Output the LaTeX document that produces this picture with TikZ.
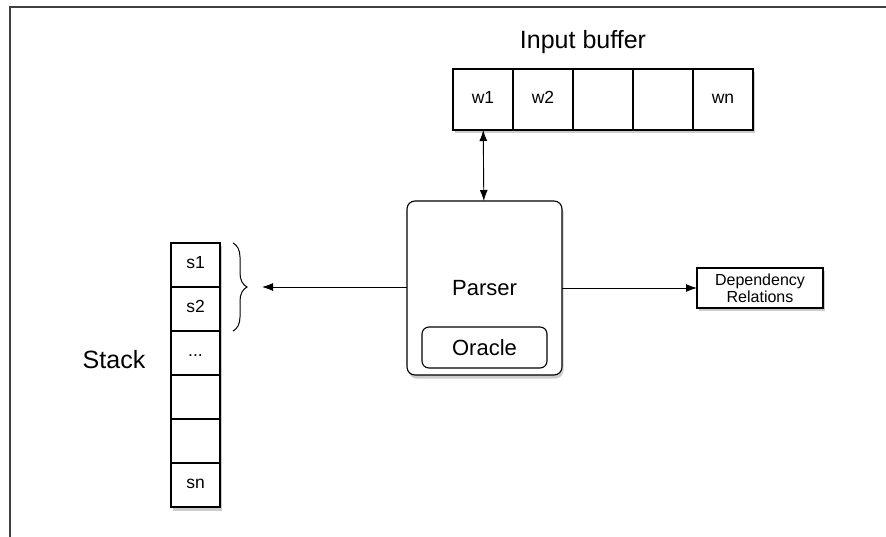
\documentclass[tikz,border=0pt]{standalone}
\usepackage{fontspec}
\setmainfont{Liberation Sans}
\usetikzlibrary{positioning, arrows.meta, shadows, decorations.pathreplacing}

\begin{document}
\begin{tikzpicture}[x=1pt, y=-1pt, node distance=0pt, >={Latex[length=11pt, width=8pt]},
	box/.style={draw, line width=1.1pt, fill=white, inner sep=0pt, outer sep=0pt, drop shadow={shadow xshift=1.5pt, shadow yshift=-3.5pt, opacity=0.4}},
	wcell/.style={box, minimum width=60pt, minimum height=61pt, text height=0.72em, text depth=0pt, font=\fontsize{17.5}{19}\selectfont},
	scell/.style={box, minimum width=49pt, minimum height=44pt, text height=0.72em, text depth=0pt, font=\fontsize{17.5}{19}\selectfont}]
		\useasboundingbox (0,0) rectangle (886,537);
		\draw[line width=1.6pt, black!75] (10,537) -- (10,7) -- (886,7);

		% input buffer
		\node[wcell] (w1) at (483,99.5) {w1};
		\node[wcell] (w2) [right=of w1] {w2};
		\node[wcell] (w3) [right=of w2] {};
		\node[wcell] (w4) [right=of w3] {};
		\node[wcell] (wn) [right=of w4] {wn};
		\node[font=\fontsize{25}{28}\selectfont] (buf) at (583,42) {Input buffer};

		% stack
		\node[scell] (s1) at (195.5,265) {s1};
		\node[scell] (s2) [below=of s1] {s2};
		\node[scell] (s3) [below=of s2] {...};
		\node[scell] (s4) [below=of s3] {};
		\node[scell] (s5) [below=of s4] {};
		\node[scell] (sn) [below=of s5] {sn};
		\node[font=\fontsize{25}{28}\selectfont] (stack) at (114,360) {Stack};

		% parser
		\node[box, rounded corners=8pt, minimum width=155pt, minimum height=174pt, font=\fontsize{22}{24}\selectfont] (parser) at (484.5,288) {Parser};
		\node[draw, line width=1.1pt, rounded corners=7pt, minimum width=125pt, minimum height=41pt, inner sep=0pt, font=\fontsize{22}{24}\selectfont] (oracle) at (484.5,347.5) {Oracle};

		\node[box, minimum width=126pt, minimum height=40pt, align=center, font=\fontsize{16}{17}\selectfont] (dep) at (760,288) {Dependency\\Relations};

		\draw[line width=1pt, decorate, decoration={brace, amplitude=14pt}] (233,243) -- (233,331);
		\coordinate (tip) at (262,287);

		\path[->, line width=0.9pt]
		(parser) edge [<->] (w1)
		(parser.west |- tip) edge (tip)
		(parser.east) edge (dep.west);
	\end{tikzpicture}
\end{document}
